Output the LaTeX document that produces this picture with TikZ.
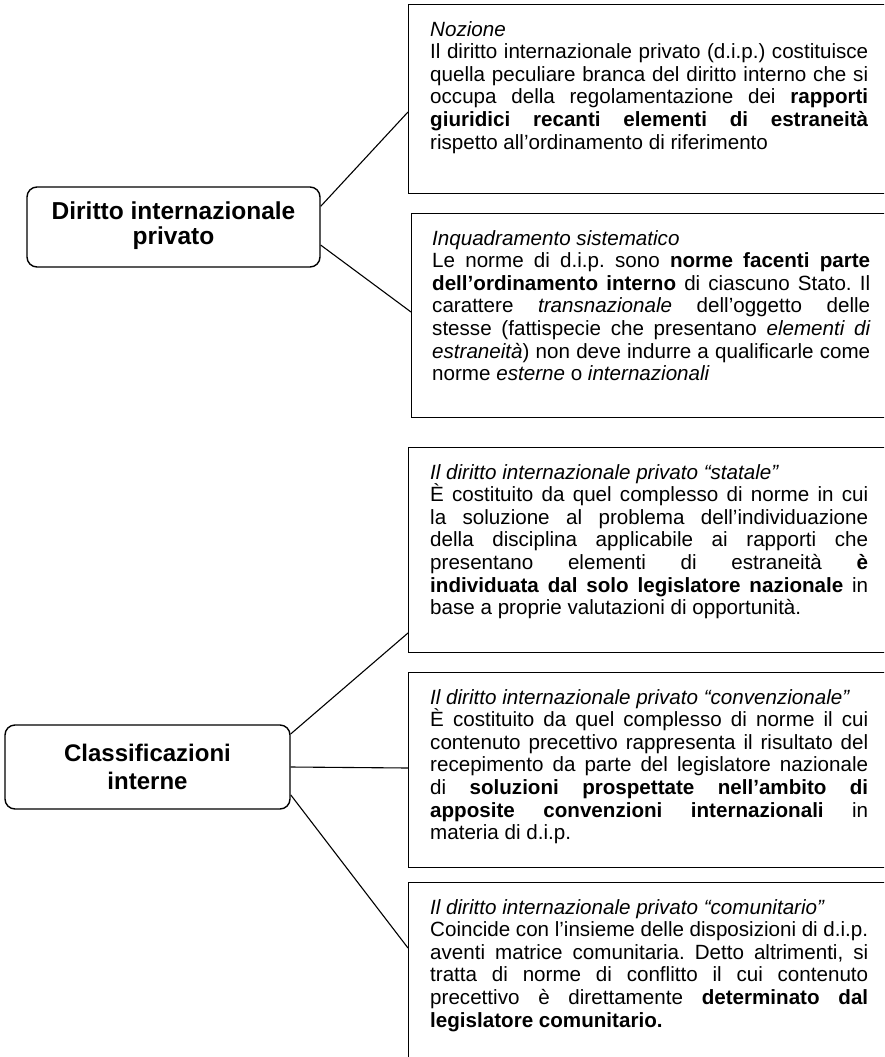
\documentclass[tikz,border=0pt]{standalone}
\usepackage{fontspec}
\setmainfont{Liberation Sans}

\tikzset{
  topic/.style={draw, line width=1.4pt, rounded corners=10pt, align=center},
  panel/.style={draw, line width=1.4pt, anchor=north west, minimum width=560pt},
  note/.style={anchor=north west, inner sep=0pt, text width=438pt, align=justify,
    font=\fontsize{20.6}{22.6}\selectfont\frenchspacing},
  link/.style={line width=1.1pt}
}

\begin{document}
\begin{tikzpicture}[x=1pt, y=-1pt]
		\useasboundingbox (0,0) rectangle (884,1057);
		\clip (0,0) rectangle (884,1057);

		% Left boxes
		\node[topic, minimum width=293pt, minimum height=80pt, text depth=8pt,
			font=\bfseries\fontsize{24.5}{25}\selectfont] (dip) at (173.5,227) {Diritto internazionale\\privato};
		\node[topic, minimum width=285pt, minimum height=84pt,
			font=\bfseries\fontsize{24}{28}\selectfont] (classi) at (147.5,767) {Classificazioni\\interne};

		% Right boxes
		\node[panel, minimum height=189pt] (nozione) at (408,4) {};
		\node[panel, minimum height=204pt] (inquadr) at (411,213) {};
		\node[panel, minimum height=205pt] (statale) at (408,447) {};
		\node[panel, minimum height=195pt] (convenz) at (408,672) {};
		\node[panel, minimum height=260pt] (comunit) at (408,882) {};

		% Texts
		\node[note] (nozioneTxt) at ([xshift=22pt, yshift=-17pt]nozione.north west) {\textit{Nozione}\\
			Il diritto internazionale privato (d.i.p.) costituisce\linebreak
			quella peculiare branca del diritto interno che si\linebreak
			occupa della regolamentazione dei \textbf{rapporti\linebreak
			giuridici recanti elementi di estraneità}\linebreak
			rispetto all’ordinamento di riferimento};
		\node[note] (inquadrTxt) at ([xshift=21pt, yshift=-17pt]inquadr.north west) {\textit{Inquadramento sistematico}\\
			Le norme di d.i.p. sono \textbf{norme facenti parte\linebreak
			dell’ordinamento interno} di ciascuno Stato. Il\linebreak
			carattere \textit{transnazionale} dell’oggetto delle\linebreak
			stesse (fattispecie che presentano \textit{elementi di\linebreak
			estraneità}) non deve indurre a qualificarle come\linebreak
			norme \textit{esterne} o \textit{internazionali}};
		\node[note] (stataleTxt) at ([xshift=22pt, yshift=-17pt]statale.north west) {\textit{Il diritto internazionale privato “statale”}\\
			È costituito da quel complesso di norme in cui\linebreak
			la soluzione al problema dell’individuazione\linebreak
			della disciplina applicabile ai rapporti che\linebreak
			presentano elementi di estraneità \textbf{è\linebreak
			individuata dal solo legislatore nazionale} in\linebreak
			base a proprie valutazioni di opportunità.};
		\node[note] (convenzTxt) at ([xshift=22pt, yshift=-17pt]convenz.north west) {\textit{Il diritto internazionale privato “convenzionale”}\\
			È costituito da quel complesso di norme il cui\linebreak
			contenuto precettivo rappresenta il risultato del\linebreak
			recepimento da parte del legislatore nazionale\linebreak
			di \textbf{soluzioni prospettate nell’ambito di\linebreak
			apposite convenzioni internazionali} in\linebreak
			materia di d.i.p.};
		\node[note] (comunitTxt) at ([xshift=22pt, yshift=-17pt]comunit.north west) {\textit{Il diritto internazionale privato “comunitario”}\\
			Coincide con l’insieme delle disposizioni di d.i.p.\linebreak
			aventi matrice comunitaria. Detto altrimenti, si\linebreak
			tratta di norme di conflitto il cui contenuto\linebreak
			precettivo è direttamente \textbf{determinato dal\linebreak
			legislatore comunitario.}};

		% Connectors
		\draw[link] (dip.8.5) -- ([yshift=-108pt]nozione.north west);
		\draw[link] (dip.-7) -- ([yshift=-99pt]inquadr.north west);
		\draw[link] (classi.13.4) -- ([yshift=-186pt]statale.north west);
		\draw[link] (classi.east) -- ([yshift=-96pt]convenz.north west);
		\draw[link] (classi.-11.9) -- ([yshift=-66pt]comunit.north west);
	\end{tikzpicture}
\end{document}
